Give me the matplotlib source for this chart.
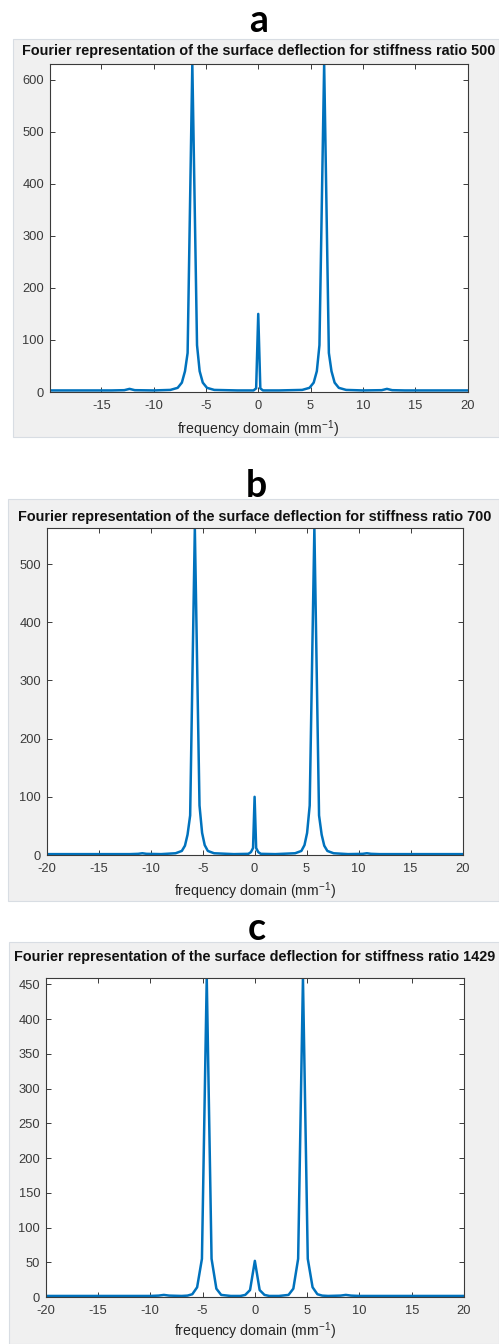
import matplotlib
matplotlib.use("Agg")
import matplotlib.pyplot as plt
from matplotlib.patches import Rectangle

plt.rcParams['font.family'] = ['Liberation Sans', 'DejaVu Sans']
plt.rcParams['mathtext.default'] = 'regular'
plt.rcParams['axes.unicode_minus'] = False

# Spectra: |FFT| of surface deflection vs spatial frequency (1/mm)
freq_a = [-19.95, -17.0, -14.0, -12.8, -12.3, -11.8, -10.0,
          -8.4, -7.7, -7.3, -7.0, -6.75, -6.3, -5.85, -5.6, -5.3, -4.9, -4.2, -2.0,
          -0.45, -0.2, 0.0, 0.2, 0.45,
          2.0, 4.2, 4.9, 5.3, 5.6, 5.85, 6.3, 6.75, 7.0, 7.3, 7.7, 8.4,
          10.0, 11.8, 12.3, 12.8, 14.0, 17.0, 20.0]
amp_a = [3, 3, 3, 3.5, 6, 3.5, 3,
         4, 8, 18, 40, 75, 630, 90, 40, 18, 8, 4, 3,
         3, 7, 150, 7, 3,
         3, 4, 8, 18, 40, 90, 630, 75, 40, 18, 8, 4,
         3, 3.5, 6, 3.5, 3, 3, 3]

freq_b = [-20, -16, -12, -11.2, -10.8, -10.4, -9,
          -7.6, -7.0, -6.7, -6.45, -6.2, -5.75, -5.3, -5.05, -4.8, -4.5, -3.9, -2.0,
          -0.6, -0.35, -0.15, 0, 0.15, 0.35, 0.6,
          2.0, 3.9, 4.5, 4.8, 5.05, 5.3, 5.75, 6.2, 6.45, 6.7, 7.0, 7.6,
          9, 10.4, 10.8, 11.2, 12, 16, 20]
amp_b = [1.5, 1.5, 1.5, 2, 3, 2, 1.5,
         3, 7, 16, 35, 68, 562, 85, 38, 17, 7, 3, 1.5,
         2, 5, 12, 100, 12, 5, 2,
         1.5, 3, 7, 17, 38, 85, 562, 68, 35, 16, 7, 3,
         1.5, 2, 3, 2, 1.5, 1.5, 1.5]

freq_c = [-20, -15, -10, -9.2, -8.7, -8.2, -7,
          -6.44, -5.98, -5.52, -5.06, -4.6, -4.14, -3.68, -3.22,
          -2.3, -1.38, -0.92, -0.46, 0, 0.46, 0.92, 1.38, 2.3,
          3.22, 3.68, 4.14, 4.6, 5.06, 5.52, 5.98, 6.44,
          7, 8.2, 8.7, 9.2, 10, 15, 20]
amp_c = [1.5, 1.5, 1.5, 2, 3, 2, 1.5,
         2, 4, 14, 55, 459, 55, 12, 3,
         1.5, 1.5, 3, 10, 52, 10, 3, 1.5, 1.5,
         3, 12, 55, 459, 55, 14, 4, 2,
         1.5, 2, 3, 2, 1.5, 1.5, 1.5]

stiffness = ["500", "700", "1429"]
panel_tags = ["a", "b", "c"]
xticks_all = [-20, -15, -10, -5, 0, 5, 10, 15, 20]
yticks_a = [0, 100, 200, 300, 400, 500, 600]
yticks_b = [0, 100, 200, 300, 400, 500]
yticks_c = [0, 50, 100, 150, 200, 250, 300, 350, 400, 450]

W, H = 499, 1344
fig = plt.figure(figsize=(W / 100, H / 100), dpi=100)
fig.patch.set_facecolor('white')


def fx(px):
    return px / W


def fy(py):
    return 1 - py / H


# layout in pixels: (box l, box t, box b, axes l, axes r, axes t, axes b,
#                    tag baseline, title y, xlabel y)
layouts = [
    (13, 39, 437, 49.5, 467.5, 64, 392, 32, 51, 429),
    (8, 499, 901, 46.7, 462.5, 528, 855, 497, 517, 891),
    (9, 942, 1344, 45.7, 464.0, 978, 1297, 940, 957, 1331),
]
series = [(freq_a, amp_a, yticks_a), (freq_b, amp_b, yticks_b), (freq_c, amp_c, yticks_c)]

line_color = '#0072BD'
axis_color = '#3a3a3a'

for (bl, bt, bb, al, ar, at, ab, tagy, titley, xly), (fq, am, yt), tag, st in zip(
        layouts, series, panel_tags, stiffness):
    fig.patches.append(Rectangle((fx(bl), fy(bb)), fx(W - bl), (bb - bt) / H,
                                 transform=fig.transFigure, facecolor='#F0F0F0',
                                 edgecolor='#d8dde3', linewidth=0.8, zorder=-5))
    fig.text(fx((bl + W) / 2 + 3), fy(tagy), tag, ha='center', va='baseline',
             fontsize=27, fontweight='bold', family=['Lato', 'DejaVu Sans'])
    ax = fig.add_axes([fx(al), fy(ab), (ar - al) / W, (ab - at) / H])
    ax.set_facecolor('white')
    ax.plot(fq, am, color=line_color, linewidth=1.8)
    ax.set_xlim(min(fq), max(fq))
    ax.set_ylim(0, max(am))
    ax.set_xticks([t for t in xticks_all if t >= min(fq) - 1e-9])
    ax.set_yticks(yt)
    ax.tick_params(direction='in', length=3.5, width=0.7, colors=axis_color,
                   top=True, right=True, labelsize=9.3, pad=4)
    ax.tick_params(axis='x', pad=6)
    for sp in ax.spines.values():
        sp.set_color(axis_color)
        sp.set_linewidth(0.8)
    fig.text(fx((al + ar) / 2), fy(titley),
             f"Fourier representation of the surface deflection for stiffness ratio {st}",
             ha='center', va='center', fontsize=10.4, fontweight='bold', color='#111111')
    fig.text(fx((al + ar) / 2), fy(xly), "frequency domain (mm$^{-1}$)",
             ha='center', va='center', fontsize=10.2, color='#262626')

fig.savefig("out.png", dpi=100, facecolor='white')
